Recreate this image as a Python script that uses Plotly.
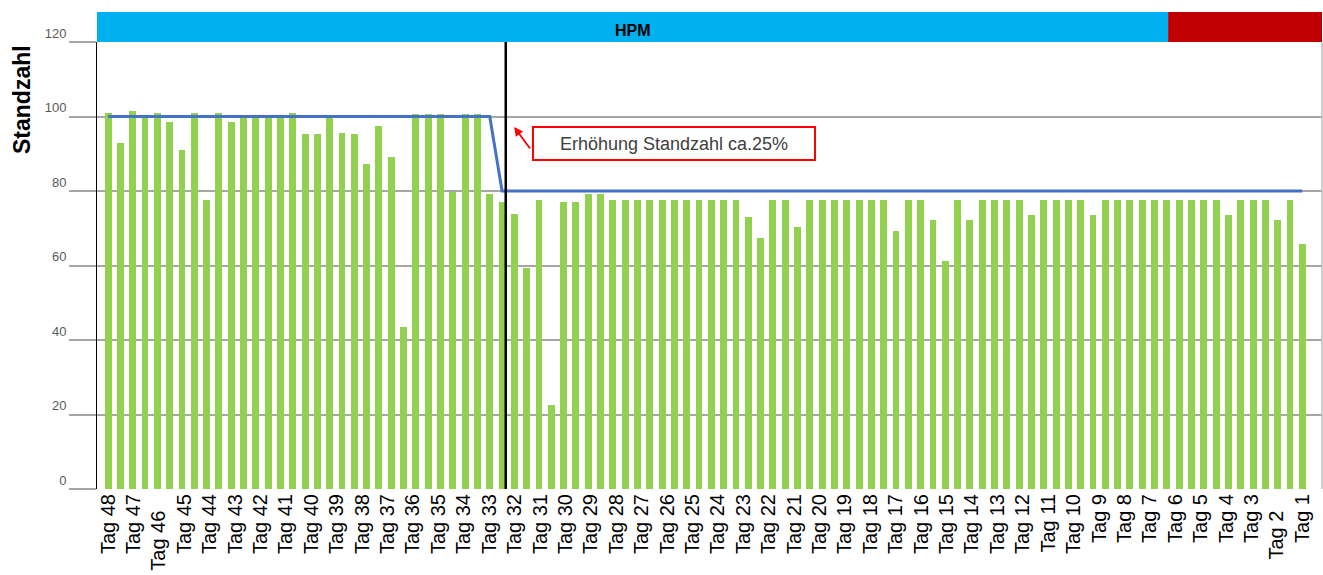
import numpy as np
import plotly.graph_objects as go

# ---------------- data ----------------
day_labels = [f"Tag {d}" for d in range(48, 0, -1)]
label_pad = {46: 3, 2: 3}  # labels that sit lower in the original

standzahl = [101, 93, 101.5, 100, 101, 98.5, 91, 101, 77.5, 101,
             98.5, 100, 100, 100, 100, 101, 95.3, 95.3, 100, 95.5,
             95.2, 87.2, 97.5, 89.2, 43.4, 100.7, 100.7, 100.7, 79.7, 100.7,
             100.7, 79.2, 77, 73.7, 59.2, 77.7, 22.6, 77, 77, 79.3,
             79.3, 77.7, 77.7, 77.7, 77.7, 77.7, 77.7, 77.7, 77.7, 77.7,
             77.7, 77.7, 73.1, 67.3, 77.7, 77.7, 70.3, 77.7, 77.7, 77.7,
             77.7, 77.7, 77.7, 77.7, 69.2, 77.7, 77.7, 72.3, 61.3, 77.7,
             72.3, 77.7, 77.7, 77.7, 77.7, 73.6, 77.7, 77.7, 77.7, 77.7,
             73.6, 77.7, 77.7, 77.7, 77.7, 77.7, 77.7, 77.7, 77.7, 77.7,
             77.7, 73.6, 77.7, 77.7, 77.7, 72.3, 77.7, 65.8]

target_before = 100
target_after = 80
change_index = 32          # first bar with the new target
change_marker = 32.3       # position of the black separator line
red_phase_start = 86.1     # start of the red phase in the top band
annotation_text = "Erhöhung Standzahl ca.25%"

n = len(standzahl)
idx = np.arange(n)
target = [target_before if i < change_index else target_after for i in idx]

x_min, x_max = -0.9, 98.6
y_min, y_max = 0, 120

GREEN = "#92D050"
BLUE_LINE = "#4472C4"
BAND_BLUE = "#00B0F0"
BAND_RED = "#C00000"
GRID = "#A6A6A6"

fig = go.Figure()
fig.add_trace(go.Bar(x=idx, y=standzahl, width=0.56,
                     marker=dict(color=GREEN, line=dict(width=0)),
                     hoverinfo="y"))
fig.add_trace(go.Scatter(x=idx, y=target, mode="lines",
                         line=dict(color=BLUE_LINE, width=3),
                         hoverinfo="skip"))

ticktext = [t + "\u00a0" * label_pad.get(int(t.split()[1]), 0) for t in day_labels]
tickvals = np.linspace(0, n - 1, len(day_labels))

band_top = 1 + 30 / 447
shapes = [
    dict(type="rect", xref="x", yref="paper", x0=x_min, x1=red_phase_start,
         y0=1, y1=band_top, fillcolor=BAND_BLUE, line=dict(width=0), layer="above"),
    dict(type="rect", xref="x", yref="paper", x0=red_phase_start, x1=x_max,
         y0=1, y1=band_top, fillcolor=BAND_RED, line=dict(width=0), layer="above"),
    dict(type="line", xref="x", yref="y", x0=change_marker, x1=change_marker,
         y0=y_min, y1=y_max, line=dict(color="black", width=2.5), layer="above"),
    dict(type="line", xref="paper", yref="paper", x0=1, x1=1, y0=0, y1=1,
         line=dict(color="#BFBFBF", width=1.5)),
]

annotations = [
    dict(text="<b>HPM</b>", xref="x", yref="paper",
         x=(x_min + red_phase_start) / 2, y=1 + 12 / 447,
         xanchor="center", yanchor="middle",
         showarrow=False, font=dict(family="Liberation Sans", size=16, color="black")),
    dict(text="<b>Standzahl</b>", xref="paper", yref="paper",
         x=-75 / 1225, y=(489 - 100) / 447, textangle=-90, showarrow=False,
         xanchor="center", yanchor="middle",
         font=dict(family="Liberation Sans", size=23, color="black")),
    dict(text=annotation_text, xref="x", yref="y", x=45.98, y=92.75,
         xanchor="center", yanchor="middle",
         showarrow=False, width=276, height=27, borderpad=2,
         bordercolor="#FF0000", borderwidth=2, bgcolor="white",
         font=dict(family="Liberation Sans", size=18, color="#404040")),
    dict(text="", xref="x", yref="y", x=32.98, y=97.2, ax=17, ay=23,
         showarrow=True, arrowhead=2, arrowsize=1, arrowwidth=1.8,
         arrowcolor="#FF0000"),
]

fig.update_layout(
    width=1323, height=575,
    margin=dict(l=97, r=1, t=42, b=86, autoexpand=False),
    paper_bgcolor="white", plot_bgcolor="white",
    showlegend=False, bargap=0,
    shapes=shapes, annotations=annotations,
    xaxis=dict(range=[x_min, x_max], tickvals=tickvals, ticktext=ticktext,
               tickangle=-90, showgrid=False, zeroline=False, showline=False,
               automargin=False,
               ticks="", tickfont=dict(family="Liberation Sans", size=20, color="black")),
    yaxis=dict(range=[y_min, y_max], tickvals=[0, 20, 40, 60, 80, 100, 120],
               showgrid=True, gridcolor=GRID, gridwidth=1.5, zeroline=False,
               showline=True, linecolor="black", linewidth=1,
               automargin=False,
               ticks="outside", ticklen=27, tickcolor=GRID, tickwidth=1.5,
               ticklabelshift=-9, ticklabelstandoff=0,
               tickfont=dict(family="Liberation Sans", size=13, color="#595959")),
)

fig.write_html("out.html",
               config={"displayModeBar": False},
               post_script="document.body.style.margin='0px';document.body.style.overflow='hidden';")
